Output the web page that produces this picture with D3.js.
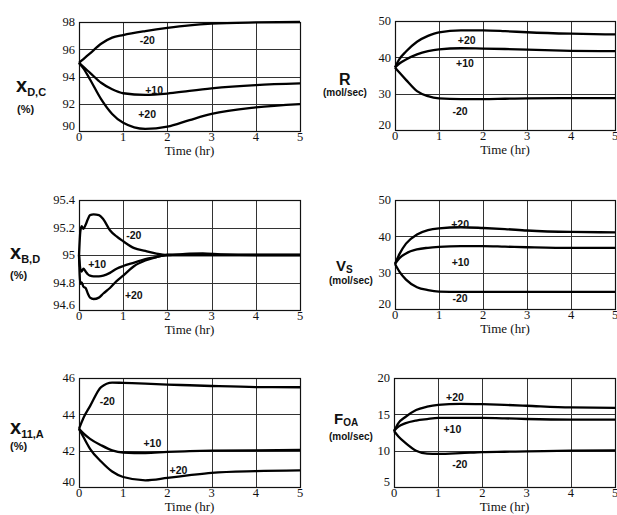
<!DOCTYPE html>
<html>
<head>
<meta charset="utf-8">
<script src="https://cdn.jsdelivr.net/npm/d3@7"></script>
<style>
  body { margin: 0; background: #fff; }
  svg { display: block; }
</style>
</head>
<body>
<script>
// time grids (hours)
var timeHr = [0, 0.1, 0.25, 0.5, 0.75, 1, 1.5, 2, 2.5, 3, 4, 5];
var timeBD = [0, 0.03, 0.06, 0.1, 0.15, 0.2, 0.25, 0.33, 0.45, 0.55, 0.7, 0.85, 1, 1.25, 1.5, 1.75, 2, 2.5, 2.8, 3.2, 4, 5];
var xTicks = [0, 1, 2, 3, 4, 5];
var curveNames = ['-20', '+10', '+20'];

// x_D,C (%)
var xdcTicks = [90, 92, 94, 96, 98];
var xdcM20 = [95, 95.28, 95.7, 96.4, 96.85, 97.04, 97.33, 97.57, 97.76, 97.88, 97.97, 98.0];
var xdcP10 = [95, 94.7, 94.27, 93.54, 93.06, 92.77, 92.65, 92.75, 92.95, 93.13, 93.37, 93.49];
var xdcP20 = [95, 94.6, 93.78, 92.34, 91.25, 90.6, 90.15, 90.32, 90.8, 91.25, 91.73, 91.98];

// R (mol/sec)
var rTicks = [20, 30, 40, 50];
var rM20 = [37.2, 35.8, 33.8, 30.7, 29.3, 28.7, 28.5, 28.5, 28.6, 28.7, 28.8, 28.8];
var rP10 = [37.2, 38.3, 39.4, 40.8, 41.7, 42.2, 42.5, 42.4, 42.3, 42.1, 41.8, 41.7];
var rP20 = [37.2, 39.5, 41.6, 44.3, 45.9, 46.9, 47.4, 47.4, 47.2, 46.9, 46.5, 46.3];

// x_B,D (%)
var xbdTicks = [94.6, 94.8, 95, 95.2, 95.4];
var xbdM20 = [95.0, 95.17, 95.21, 95.19, 95.22, 95.26, 95.29, 95.295, 95.29, 95.26, 95.18, 95.135, 95.1, 95.05, 95.03, 95.01, 95.0, 95.01, 95.012, 95.005, 95.0, 95.0];
var xbdP10 = [95.0, 94.9, 94.88, 94.9, 94.88, 94.86, 94.85, 94.845, 94.845, 94.85, 94.87, 94.9, 94.92, 94.945, 94.97, 94.985, 95.0, 95.0, 95.0, 95.0, 95.0, 95.0];
var xbdP20 = [95.0, 94.79, 94.8, 94.77, 94.76, 94.72, 94.69, 94.68, 94.69, 94.72, 94.76, 94.81, 94.85, 94.92, 94.96, 94.985, 95.0, 95.0, 95.0, 95.0, 95.0, 95.0];

// V_S (mol/sec)
var vsTicks = [20, 30, 40, 50];
var vsM20 = [32.4, 30.3, 28.1, 26.0, 25.2, 24.8, 24.7, 24.7, 24.7, 24.7, 24.7, 24.7];
var vsP10 = [32.4, 34.0, 35.3, 36.4, 36.85, 37.1, 37.3, 37.3, 37.15, 37.0, 36.8, 36.8];
var vsP20 = [32.4, 35.1, 38.0, 40.5, 41.7, 42.2, 42.5, 42.3, 42.0, 41.6, 41.2, 41.1];

// x_11,A (%)
var x11Ticks = [40, 42, 44, 46];
var x11M20 = [43.2, 43.8, 44.45, 45.5, 45.75, 45.73, 45.69, 45.64, 45.6, 45.56, 45.5, 45.49];
var x11P10 = [43.2, 42.95, 42.65, 42.3, 42.02, 41.9, 41.87, 41.93, 41.97, 42.0, 42.02, 42.04];
var x11P20 = [43.2, 42.75, 42.1, 41.4, 40.85, 40.55, 40.37, 40.5, 40.65, 40.78, 40.87, 40.91];

// F_OA (mol/sec)
var foaTicks = [5, 10, 15, 20];
var foaM20 = [12.7, 11.95, 11.1, 10.0, 9.6, 9.55, 9.65, 9.8, 9.85, 9.9, 10.0, 10.05];
var foaP10 = [12.7, 13.3, 13.75, 14.15, 14.35, 14.5, 14.5, 14.5, 14.45, 14.36, 14.27, 14.27];
var foaP20 = [12.7, 13.8, 14.6, 15.6, 16.05, 16.3, 16.45, 16.4, 16.3, 16.18, 15.95, 15.9];

var W = 617, H = 515;
var SERIF = '"Liberation Serif", "DejaVu Serif", "Times New Roman", serif';
var SANS = '"Liberation Sans", Arial, "DejaVu Sans", sans-serif';
var svg = d3.select('body').append('svg').attr('width', W).attr('height', H);

// panel layout: box in pixels, y title, curve label anchors (data units)
var panels = [
  { box: [79, 300, 22, 131], time: timeHr, ticks: xdcTicks, series: [xdcM20, xdcP10, xdcP20],
    title: { main: 'x', sub: 'D,C', unit: '(%)', x: 16, y: 92, dy: 4, ux: 17, uy: 113, big: 20, small: 11 },
    labels: [[1.545, 96.68], [1.70, 93.01], [1.54, 91.25]] },
  { box: [395, 615, 21, 130], time: timeHr, ticks: rTicks, series: [rM20, rP10, rP20],
    title: { main: 'R', sub: '', unit: '(mol/sec)', x: 339, y: 85, dy: 0, ux: 323, uy: 96, big: 16, small: 10.5 },
    labels: [[1.48, 25.23], [1.59, 38.44], [1.63, 44.58]] },
  { box: [79, 300, 200, 310], time: timeBD, ticks: xbdTicks, series: [xbdM20, xbdP10, xbdP20],
    title: { main: 'x', sub: 'B,D', unit: '(%)', x: 10, y: 259, dy: 4, ux: 10, uy: 279, big: 20, small: 11 },
    labels: [[1.24, 95.14], [0.41, 94.93], [1.24, 94.71]] },
  { box: [395, 615, 200, 309], time: timeHr, ticks: vsTicks, series: [vsM20, vsP10, vsP20],
    title: { main: 'V', sub: 'S', unit: '(mol/sec)', x: 336, y: 271, dy: 2, ux: 329, uy: 284, big: 15, small: 10 },
    labels: [[1.48, 23.03], [1.49, 32.85], [1.48, 43.2]] },
  { box: [79, 300, 378, 487], time: timeHr, ticks: x11Ticks, series: [x11M20, x11P10, x11P20],
    title: { main: 'x', sub: '11,A', unit: '(%)', x: 10, y: 434, dy: 4, ux: 10, uy: 450, big: 20, small: 11 },
    labels: [[0.64, 44.73], [1.66, 42.38], [2.25, 40.92]] },
  { box: [394, 615, 378, 487], time: timeHr, ticks: foaTicks, series: [foaM20, foaP10, foaP20],
    title: { main: 'F', sub: 'OA', unit: '(mol/sec)', x: 334, y: 424, dy: 2, ux: 329, uy: 440, big: 15, small: 10 },
    labels: [[1.49, 8.12], [1.32, 12.94], [1.38, 17.29]] }
];

panels.forEach(function (p) {
  var x0 = p.box[0], x1 = p.box[1], y0 = p.box[2], y1 = p.box[3];
  var x = d3.scaleLinear().domain([0, 5]).range([x0, x1]);
  var y = d3.scaleLinear().domain(d3.extent(p.ticks)).range([y1, y0]);
  var g = svg.append('g');

  // grid
  g.selectAll('line.hgrid').data(p.ticks).enter().append('line')
    .attr('x1', x0).attr('x2', x1)
    .attr('y1', function (d) { return Math.round(y(d)) + 0.5; })
    .attr('y2', function (d) { return Math.round(y(d)) + 0.5; })
    .attr('stroke', '#333').attr('stroke-width', 1);
  g.selectAll('line.vgrid').data(xTicks).enter().append('line')
    .attr('y1', y0).attr('y2', y1)
    .attr('x1', function (d) { return Math.round(x(d)) + 0.5; })
    .attr('x2', function (d) { return Math.round(x(d)) + 0.5; })
    .attr('stroke', '#333').attr('stroke-width', 1);
  g.append('rect')
    .attr('x', x0 + 0.5).attr('y', y0 + 0.5)
    .attr('width', x1 - x0).attr('height', y1 - y0)
    .attr('fill', 'none').attr('stroke', '#111').attr('stroke-width', 1.2);

  // tick labels
  g.selectAll('text.yt').data(p.ticks).enter().append('text')
    .attr('font-family', SERIF).attr('font-size', '12.5px').attr('fill', '#111')
    .attr('x', x0 - 4)
    .attr('y', function (d, i) { return y(d) - (i === 0 ? 5 : 0); })
    .attr('dy', '0.35em')
    .attr('text-anchor', 'end')
    .text(function (d) { return d; });
  g.selectAll('text.xt').data(xTicks).enter().append('text')
    .attr('font-family', SERIF).attr('font-size', '12.5px').attr('fill', '#111')
    .attr('x', function (d) { return x(d); })
    .attr('y', y1 + 10)
    .attr('text-anchor', 'middle')
    .text(function (d) { return d; });
  g.append('text')
    .attr('font-family', SERIF).attr('font-size', '13px').attr('fill', '#111')
    .attr('x', (x0 + x1) / 2).attr('y', y1 + 24)
    .attr('text-anchor', 'middle')
    .text('Time (hr)');

  // curves
  var line = d3.line()
    .x(function (d) { return x(d[0]); })
    .y(function (d) { return y(d[1]); })
    .curve(d3.curveMonotoneX);
  p.series.forEach(function (vals) {
    g.append('path')
      .datum(p.time.map(function (t, i) { return [t, vals[i]]; }))
      .attr('d', line)
      .attr('fill', 'none').attr('stroke', '#000')
      .attr('stroke-width', 2.3).attr('stroke-linejoin', 'round');
  });

  g.selectAll('text.cl').data(p.labels).enter().append('text')
    .attr('font-family', SANS).attr('font-weight', 'bold').attr('font-size', '10.5px').attr('fill', '#111')
    .attr('x', function (d) { return x(d[0]); })
    .attr('y', function (d) { return y(d[1]); })
    .attr('dy', '0.35em')
    .attr('text-anchor', 'middle')
    .text(function (d, i) { return curveNames[i]; });

  // y title
  var t = p.title;
  var tt = svg.append('text')
    .attr('font-family', SANS).attr('font-weight', 'bold').attr('fill', '#111')
    .attr('x', t.x).attr('y', t.y);
  tt.append('tspan').attr('font-size', t.big + 'px').text(t.main);
  if (t.sub) tt.append('tspan').attr('font-size', t.small + 'px').attr('dy', t.dy).text(t.sub);
  svg.append('text')
    .attr('font-family', SANS).attr('font-weight', 'bold').attr('fill', '#111')
    .attr('x', t.ux).attr('y', t.uy)
    .attr('font-size', t.unit === '(%)' ? '11px' : '10px')
    .text(t.unit);
});
</script>
</body>
</html>
